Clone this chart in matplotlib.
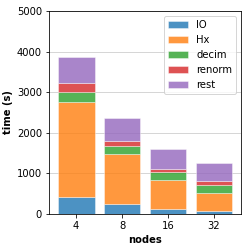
import numpy as np
import matplotlib
matplotlib.use("Agg")
import matplotlib.pyplot as plt

nodes = ["4", "8", "16", "32"]
io = [410, 254, 131, 82]
hx = [2336, 1230, 705, 434]
decim = [246, 196, 197, 205]
renorm = [238, 123, 65, 82]
rest = [631, 558, 500, 459]

series = [("IO", io), ("Hx", hx), ("decim", decim), ("renorm", renorm), ("rest", rest)]


def main():
    fig, ax = plt.subplots(figsize=(249 / 72, 249 / 72), dpi=72)
    x = np.arange(len(nodes))
    bottom = np.zeros(len(nodes))
    for label, vals in series:
        ax.bar(x, vals, bottom=bottom, label=label, alpha=0.8,
               edgecolor="white", linewidth=0.5, zorder=2)
        bottom += np.array(vals)
    ax.set_xticks(x)
    ax.set_xticklabels(nodes)
    ax.set_ylim(0, 5000)
    ax.yaxis.grid(True, color="#cccccc", zorder=0)
    ax.set_axisbelow(True)
    ax.set_xlabel("nodes", fontweight="bold")
    ax.set_ylabel("time (s)", fontweight="bold")
    ax.legend(loc="upper right")
    fig.subplots_adjust(left=0.197, right=0.968, bottom=0.141, top=0.956)
    fig.savefig("out.png", dpi=72)
    plt.close(fig)


if __name__ == "__main__":
    main()
